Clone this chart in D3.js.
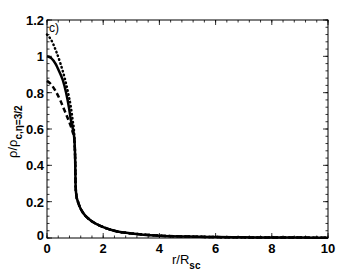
<!DOCTYPE html>
<html>
<head>
<meta charset="utf-8">
<script src="https://cdn.jsdelivr.net/npm/d3@7"></script>
<style>
  body { margin: 0; background: #fff; }
  text { font-family: "Liberation Sans", Arial, sans-serif; }
</style>
</head>
<body>
<div id="chart"></div>
<script>
const xTicks = [0, 2, 4, 6, 8, 10];
const yTicks = [0, 0.2, 0.4, 0.6, 0.8, 1, 1.2];

// shared outer tail (all curves coincide past r ~ 1)
const tailR = [1.0, 1.02, 1.05, 1.1, 1.17, 1.3, 1.5, 1.75, 2, 2.5, 3, 4, 5, 6, 7, 8, 9, 10];
const tailV = [0.45, 0.28, 0.23, 0.2, 0.17, 0.135, 0.103, 0.078, 0.06, 0.036, 0.025, 0.013, 0.008, 0.005, 0.0035, 0.0028, 0.0022, 0.0018];

const solidR = [0, 0.15, 0.3, 0.44, 0.56, 0.68, 0.78, 0.85, 0.92, 0.97];
const solidV = [1.0, 0.99, 0.96, 0.915, 0.87, 0.8, 0.72, 0.65, 0.6, 0.55];

const dottedR = [0, 0.15, 0.32, 0.48, 0.63, 0.75, 0.85, 0.92, 0.96];
const dottedV = [1.12, 1.09, 1.03, 0.96, 0.88, 0.8, 0.72, 0.64, 0.59];

const dashedR = [0, 0.15, 0.32, 0.48, 0.63, 0.75, 0.85, 0.92, 0.96];
const dashedV = [0.865, 0.845, 0.805, 0.755, 0.7, 0.655, 0.615, 0.58, 0.56];

const W = 363, H = 273;
const m = { left: 47, right: 35, top: 20, bottom: 35 };

const svg = d3.select('#chart').append('svg')
  .attr('width', W)
  .attr('height', H);

const x = d3.scaleLinear().domain([0, 10]).range([m.left, W - m.right]);
const y = d3.scaleLinear().domain([0, 1.2]).range([H - m.bottom, m.top]);

const minorX = d3.range(0, 10.001, 0.4);
const minorY = d3.range(0, 1.2001, 0.04);

// frame
svg.append('rect')
  .attr('x', x(0)).attr('y', y(1.2))
  .attr('width', x(10) - x(0)).attr('height', y(0) - y(1.2))
  .attr('fill', 'none').attr('stroke', '#000').attr('stroke-width', 1);

const ticks = svg.append('g').attr('stroke', '#000').attr('stroke-width', 0.8);
minorX.forEach(v => {
  ticks.append('line').attr('x1', x(v)).attr('x2', x(v)).attr('y1', y(0)).attr('y2', y(0) - 2.5);
  ticks.append('line').attr('x1', x(v)).attr('x2', x(v)).attr('y1', y(1.2)).attr('y2', y(1.2) + 2.5);
});
xTicks.forEach(v => {
  ticks.append('line').attr('x1', x(v)).attr('x2', x(v)).attr('y1', y(0)).attr('y2', y(0) - 5);
  ticks.append('line').attr('x1', x(v)).attr('x2', x(v)).attr('y1', y(1.2)).attr('y2', y(1.2) + 5);
});
minorY.forEach(v => {
  ticks.append('line').attr('x1', x(0)).attr('x2', x(0) + 2.5).attr('y1', y(v)).attr('y2', y(v));
  ticks.append('line').attr('x1', x(10)).attr('x2', x(10) - 2.5).attr('y1', y(v)).attr('y2', y(v));
});
yTicks.forEach(v => {
  ticks.append('line').attr('x1', x(0)).attr('x2', x(0) + 5).attr('y1', y(v)).attr('y2', y(v));
  ticks.append('line').attr('x1', x(10)).attr('x2', x(10) - 5).attr('y1', y(v)).attr('y2', y(v));
});

// tick labels
svg.append('g').selectAll('text').data(xTicks).join('text')
  .attr('x', d => x(d)).attr('y', y(0) + 15)
  .attr('text-anchor', 'middle')
  .attr('font-size', 13).attr('font-weight', 'bold')
  .text(d => d);

svg.append('g').selectAll('text').data(yTicks).join('text')
  .attr('x', x(0) - 3).attr('y', d => y(d) + (d === 0 ? 2 : 5))
  .attr('text-anchor', 'end')
  .attr('font-size', 13).attr('font-weight', 'bold')
  .text(d => d);

// axis titles
const xt = svg.append('text')
  .attr('x', 172).attr('y', 264)
  .attr('font-size', 13);
xt.append('tspan').text('r/R');
xt.append('tspan').attr('dy', 5).attr('font-size', 10).attr('font-weight', 'bold').text('sc');

const yt = svg.append('text')
  .attr('transform', 'translate(17,158) rotate(-90)')
  .attr('font-size', 13);
yt.append('tspan').text('ρ/ρ');
yt.append('tspan').attr('dy', 5).attr('font-size', 10).attr('font-weight', 'bold').text('c,η=3/2');

svg.append('text')
  .attr('x', x(0) + 2).attr('y', y(1.2) + 12)
  .attr('font-size', 12)
  .text('c)');

// curves
const line = d3.line()
  .x(d => x(d[0]))
  .y(d => y(d[1]))
  .curve(d3.curveMonotoneX);

const tail = tailR.map((r, i) => [r, tailV[i]]);
const build = (rs, vs) => rs.map((r, i) => [r, vs[i]]).concat(tail);

const curves = [
  { pts: build(dashedR, dashedV), dash: '5,3', cap: 'butt' },
  { pts: build(dottedR, dottedV), dash: '0.5,3.5', cap: 'round' },
  { pts: build(solidR, solidV), dash: null, cap: 'butt' }
];

const plot = svg.append('g');
curves.forEach(c => {
  plot.append('path')
    .attr('d', line(c.pts))
    .attr('fill', 'none')
    .attr('stroke', '#000')
    .attr('stroke-width', 2.5)
    .attr('stroke-linecap', c.cap)
    .attr('stroke-dasharray', c.dash);
});
</script>
</body>
</html>
